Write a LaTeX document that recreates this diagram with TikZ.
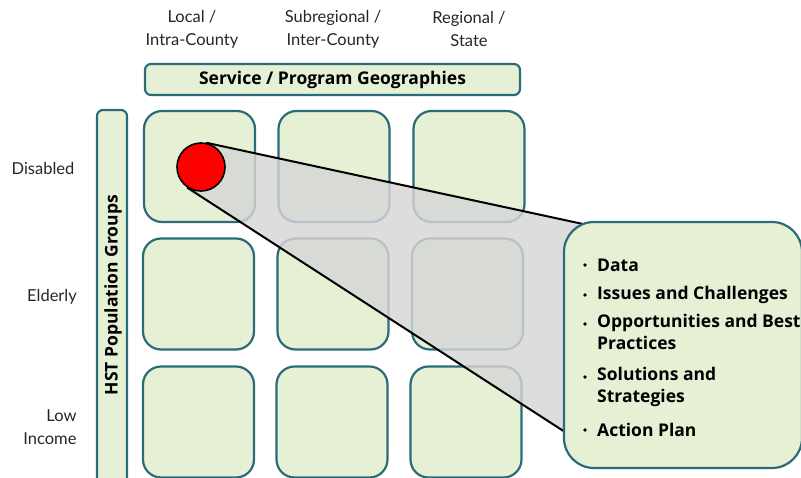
\documentclass[tikz,border=0pt]{standalone}
\usepackage{fontspec}
\setmainfont{Lato}
\newfontfamily\bfam{Open Sans}
\pgfdeclarelayer{front}
\pgfsetlayers{main,front}
\begin{document}
\begin{tikzpicture}[x=1pt,y=-1pt,
  cell/.style={draw=teal0,fill=green0,line width=2.2pt,rounded corners=18pt,minimum width=111pt,minimum height=111pt,inner sep=0pt},
  bar/.style={draw=teal0,fill=green0,line width=2.2pt,rounded corners=6pt,inner sep=0pt},
  lab/.style={font=\fontsize{16.5}{23}\selectfont,align=center,text=black!85},
  bt/.style={font=\bfam\bfseries\fontsize{17.5}{18}\selectfont},
  item/.style={font=\bfam\bfseries\fontsize{17.5}{22.5}\selectfont,anchor=west,inner sep=0pt},
  bul/.style={circle,fill=black,inner sep=1.4pt}]
\definecolor{teal0}{RGB}{42,108,122}
\definecolor{green0}{RGB}{230,240,212}
\definecolor{grey0}{RGB}{214,214,214}
\useasboundingbox (0,0) rectangle (801,477);
% column headers
\node[lab] (h1) at (192,29) {Local /\\Intra-County};
\node[lab] (h2) at (333,29) {Subregional /\\Inter-County};
\node[lab] (h3) at (469,29) {Regional /\\State};
% top bar
\node[bar,bt,minimum width=375pt,minimum height=31pt] (sb) at (332.5,79.5) {Service / Program Geographies};
% left bar
\node[bar,minimum width=30pt,minimum height=380pt] (lb) at (112,300) {};
\node[bt,rotate=90] (lbt) at (113,295) {HST Population Groups};
% row labels
\node[lab] (r1) at (43,168) {Disabled};
\node[lab] (r2) at (52,297) {Elderly};
\node[lab,align=right,anchor=east] (r3) at (80,427) {Low\\Income};
% grid
\node[cell] (c11) at (199.5,166.5) {};
\node[cell] (c12) at (334,166.5) {};
\node[cell] (c13) at (469,166.5) {};
\node[cell] (c21) at (198.5,294) {};
\node[cell] (c22) at (333,294) {};
\node[cell] (c23) at (467.5,294) {};
\node[cell] (c31) at (198.5,422) {};
\node[cell] (c32) at (332,422) {};
\node[cell] (c33) at (466,422) {};
% red circle (front layer)
\begin{pgfonlayer}{front}
\node[circle,draw=black,fill=red,line width=1.6pt,minimum size=48pt,inner sep=0pt] (dot) at (201,167) {};
\end{pgfonlayer}
% callout
\coordinate (ct) at (583,224);
\coordinate (cb) at (565,432);
\fill[grey0,opacity=0.82] (dot.78) -- (ct) -- (cb) -- (dot.-124) -- cycle;
\draw[line width=2pt] (dot.78) -- (ct);
\draw[line width=2pt] (dot.-124) -- (cb);
\node[draw=teal0,fill=green0,line width=2.2pt,rounded corners=30pt,minimum width=238pt,minimum height=246pt,inner sep=0pt] (co) at (683,345) {};
\node[bul] (b1) at (585,265) {};
\node[item] (t1) at (597,265) {Data};
\node[bul] (b2) at (585,295) {};
\node[item] (t2) at (597,295) {Issues and Challenges};
\node[bul] (b3) at (585,324) {};
\node[item,anchor=north west,align=left] (t3) at (597,313.5) {Opportunities and Best\\Practices};
\node[bul] (b4) at (585,377) {};
\node[item,anchor=north west,align=left] (t4) at (597,366.5) {Solutions and\\Strategies};
\node[bul] (b5) at (585,430) {};
\node[item] (t5) at (597,430) {Action Plan};
\end{tikzpicture}
\end{document}
